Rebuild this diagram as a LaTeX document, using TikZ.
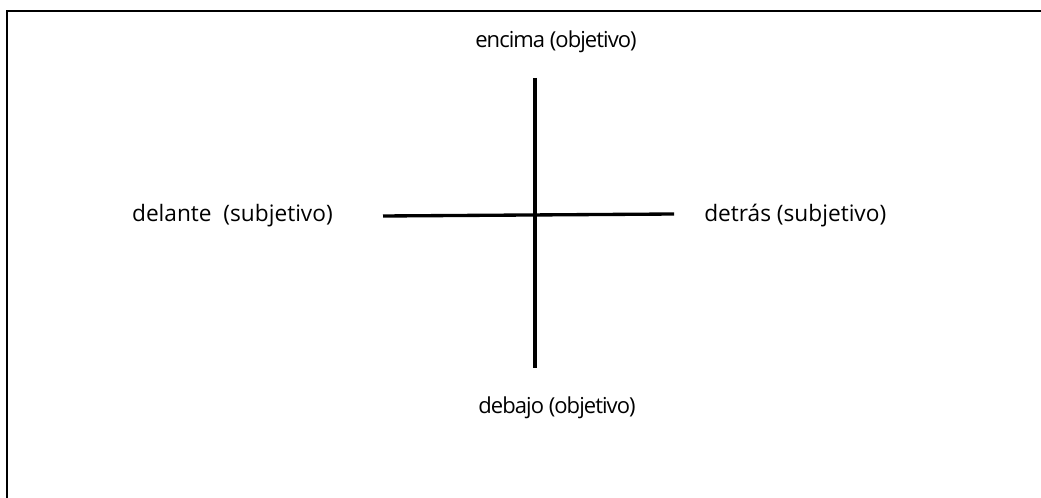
\documentclass[tikz,border=0pt]{standalone}
\usepackage{fontspec}
\setmainfont{Open Sans}
\newfontfamily\tightfont{Open Sans}[LetterSpace=-4.3]
\usepackage{tikz}
\usetikzlibrary{positioning}

\tikzset{
  axislabel/.style={font=\tightfont\fontsize{16.5}{19}\selectfont, inner sep=0pt},
  sidelabel/.style={font=\fontsize{17}{20}\selectfont, inner sep=0pt},
  axisline/.style={line width=2.5pt}
}

\begin{document}
\begin{tikzpicture}[x=0.75pt,y=-0.75pt]
        \useasboundingbox (0,0) rectangle (1041,498);
        % frame, cut by the page edge
        \draw[line width=1.8pt] (7,520) -- (7,11) -- (1060,11);
        % ends of the two axes
        \coordinate (top) at (535,78);
        \coordinate (bottom) at (535,368);
        \coordinate (left) at (383,216);
        \coordinate (right) at (674,214);
        \draw[axisline] (top) -- (bottom);
        \draw[axisline] (left) -- (right);
        \node[axislabel] (encima) at (556,42) {encima (objetivo)};
        \node[axislabel] (debajo) at (557,408) {debajo (objetivo)};
        \node[sidelabel,anchor=east] (delante) at (333,216) {delante~~(subjetivo)};
        \node[sidelabel,anchor=west] (detras) at (704,216) {detrás (subjetivo)};
    \end{tikzpicture}
\end{document}
